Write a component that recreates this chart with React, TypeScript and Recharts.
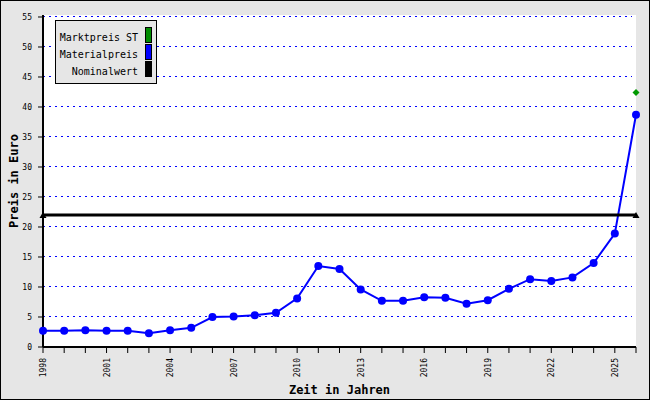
import { CartesianGrid, Legend, Line, LineChart, ReferenceLine, XAxis, YAxis, Label } from "recharts";

const years = [
  1998, 1999, 2000, 2001, 2002, 2003, 2004, 2005, 2006, 2007, 2008, 2009, 2010, 2011, 2012,
  2013, 2014, 2015, 2016, 2017, 2018, 2019, 2020, 2021, 2022, 2023, 2024, 2025, 2026
];
const materialpreis = [
  2.7, 2.7, 2.8, 2.7, 2.7, 2.3, 2.8, 3.2, 5.0, 5.1, 5.3, 5.7, 8.1, 13.5, 13.0,
  9.6, 7.7, 7.7, 8.3, 8.2, 7.2, 7.8, 9.7, 11.3, 11.0, 11.6, 14.0, 18.9, 38.7
];
// Marktpreis only known for the last year
const marktpreisYears = [2026];
const marktpreisValues = [42.4];
// Nominalwert drawn between first and last year
const nominalYears = [1998, 2026];
const nominalValues = [22, 22];

const yTicks = [0, 5, 10, 15, 20, 25, 30, 35, 40, 45, 50, 55];
const labelYears = [1998, 2001, 2004, 2007, 2010, 2013, 2016, 2019, 2022, 2025];

const legendItems = [
  { label: "Marktpreis ST", color: "#008c00" },
  { label: "Materialpreis", color: "#0000ff" },
  { label: "Nominalwert", color: "#000000" }
];

const MONO = "'DejaVu Sans Mono', monospace";

type Row = { year: number; material?: number; markt?: number; nominal?: number };

const data: Row[] = years.map((year, i) => {
  const row: Row = { year, material: materialpreis[i] };
  const m = marktpreisYears.indexOf(year);
  if (m >= 0) row.markt = marktpreisValues[m];
  const n = nominalYears.indexOf(year);
  if (n >= 0) row.nominal = nominalValues[n];
  return row;
});

function YearTick(props: any) {
  const { x, y, payload } = props;
  if (!labelYears.includes(payload.value)) return null;
  return (
    <text
      x={x + 3}
      y={y + 3}
      transform={`rotate(-90, ${x + 3}, ${y + 3})`}
      textAnchor="end"
      fontSize={8}
      fontFamily={MONO}
      fill="#000"
    >
      {payload.value}
    </text>
  );
}

function Triangle(props: any) {
  const { cx, cy, value } = props;
  if (value == null || cx == null) return null;
  return <polygon points={`${cx},${cy - 3} ${cx - 3.5},${cy + 3} ${cx + 3.5},${cy + 3}`} fill="#000" />;
}

function Diamond(props: any) {
  const { cx, cy, value } = props;
  if (value == null || cx == null) return null;
  return <polygon points={`${cx},${cy - 3.5} ${cx + 3.5},${cy} ${cx},${cy + 3.5} ${cx - 3.5},${cy}`} fill="#009900" />;
}

function LegendBox() {
  return (
    <div
      style={{
        position: "relative",
        width: 100,
        height: 62,
        background: "#e6e6e6",
        border: "1px solid #000",
        fontFamily: MONO,
        fontSize: 10,
        color: "#000"
      }}
    >
      {legendItems.map((item, i) => (
        <div key={item.label}>
          <div style={{ position: "absolute", right: 18, top: 11 + i * 17, lineHeight: "12px", whiteSpace: "nowrap" }}>
            {item.label}
          </div>
          <div
            style={{
              position: "absolute",
              left: 89,
              top: 6 + i * 17,
              width: 5,
              height: 14,
              background: item.color,
              border: "1px solid #000"
            }}
          />
        </div>
      ))}
    </div>
  );
}

export default function App() {
  return (
    <div style={{ position: "relative", width: 650, height: 400, background: "#e6e6e6" }}>
      <style>{`body { margin: 0; } .grid-dots line { shape-rendering: crispEdges; }`}</style>
      <LineChart width={650} height={400} data={data} margin={{ top: 15, right: 14, left: 0, bottom: 0 }}>
        <CartesianGrid horizontal={false} vertical={false} fill="#ffffff" stroke="none" />
        {yTicks.slice(1).map((v) => (
          <ReferenceLine
            key={v}
            className="grid-dots"
            segment={[{ x: 1998, y: v }, { x: 2025.8, y: v }]}
            stroke="#0000ff"
            strokeDasharray="2 4"
          />
        ))}
        <XAxis
          dataKey="year"
          type="number"
          domain={[1998, 2026]}
          ticks={years}
          interval={0}
          height={53}
          tick={<YearTick />}
          tickSize={6}
          axisLine={{ stroke: "#000", strokeWidth: 2 }}
          tickLine={{ stroke: "#000", strokeWidth: 1 }}
        >
          <Label
            value="Zeit in Jahren"
            position="insideBottom"
            offset={6}
            style={{ fontFamily: MONO, fontSize: 12, fontWeight: "bold", fill: "#000" }}
          />
        </XAxis>
        <YAxis
          type="number"
          domain={[0, 55.333]}
          ticks={yTicks}
          interval={0}
          width={43}
          tickSize={5}
          tickMargin={6}
          tick={{ fontSize: 8, fontFamily: MONO, fill: "#000" }}
          axisLine={{ stroke: "#000", strokeWidth: 2 }}
          tickLine={{ stroke: "#000", strokeWidth: 1 }}
        >
          <Label
            value="Preis in Euro"
            angle={-90}
            position="insideLeft"
            offset={14}
            style={{ fontFamily: MONO, fontSize: 12, fontWeight: "bold", fill: "#000", textAnchor: "middle" }}
          />
        </YAxis>
        <Legend
          layout="vertical"
          align="center"
          verticalAlign="middle"
          content={() => <LegendBox />}
          wrapperStyle={{ position: "absolute", left: 55, top: 20, width: "auto", height: "auto" }}
        />
        <Line
          dataKey="material"
          stroke="#0000ff"
          strokeWidth={2}
          dot={{ r: 4, fill: "#0000ff", stroke: "none" }}
          activeDot={false}
          isAnimationActive={false}
        />
        <Line
          dataKey="nominal"
          stroke="#000"
          strokeWidth={3}
          connectNulls
          dot={<Triangle />}
          activeDot={false}
          isAnimationActive={false}
        />
        <Line
          dataKey="markt"
          stroke="none"
          dot={<Diamond />}
          activeDot={false}
          isAnimationActive={false}
        />
      </LineChart>
      <div
        style={{
          position: "absolute",
          left: 0,
          top: 0,
          width: 650,
          height: 400,
          boxSizing: "border-box",
          border: "1px solid #000",
          pointerEvents: "none"
        }}
      />
    </div>
  );
}
